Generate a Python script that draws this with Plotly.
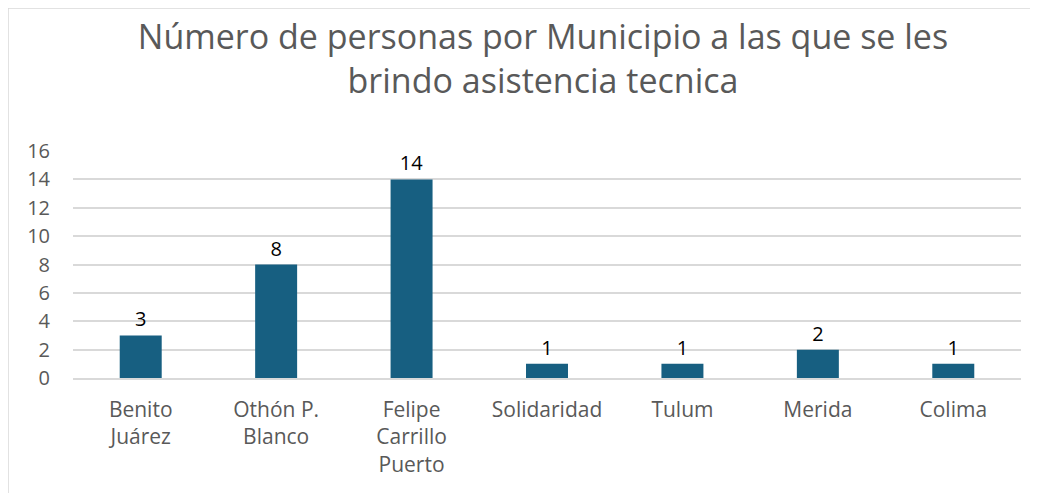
import plotly.graph_objects as go

categories = ["Benito<br>Juárez", "Othón P.<br>Blanco", "Felipe<br>Carrillo<br>Puerto",
              "Solidaridad", "Tulum", "Merida", "Colima"]
values = [3, 8, 14, 1, 1, 2, 1]
y_ticks = [0, 2, 4, 6, 8, 10, 12, 14, 16]

# page body has an 8px default margin, so the figure is offset by 8px
W, H = 1030, 485
L, R, T, B = 65, 17, 143, 115
pw, ph = W - L - R, H - T - B
FONT = "Open Sans, sans-serif"

fig = go.Figure(go.Bar(
    x=categories, y=values,
    marker=dict(color="#175F81", line=dict(width=0)),
    width=0.31,
    text=values, textposition="outside",
    textfont=dict(family=FONT, size=20, color="#000000"),
    cliponaxis=False,
))

fig.update_layout(
    width=W, height=H,
    margin=dict(l=L, r=R, t=T, b=B),
    paper_bgcolor="white", plot_bgcolor="white",
    title=dict(
        text="Número de personas por Municipio a las que se les<br>brindo asistencia tecnica",
        x=535 / W, xanchor="center", y=1 - 41 / H, yanchor="middle",
        font=dict(family=FONT, size=34, color="#595959"),
    ),
    showlegend=False,
    font=dict(family=FONT),
    shapes=[dict(type="rect", xref="paper", yref="paper",
                 x0=(0 - L) / pw, x1=(W + 5 - L) / pw,
                 y0=-(B + 5) / ph, y1=1 + (T - 0) / ph,
                 line=dict(color="#d9d9d9", width=1.5), layer="below")],
)
fig.update_yaxes(
    range=[0, 16], tickvals=y_ticks, showgrid=True, gridcolor="#d9d9d9", gridwidth=1.5,
    zeroline=False, showline=False, ticks="", ticklabelstandoff=22,
    tickfont=dict(size=20, color="#595959"),
)
fig.update_xaxes(
    showline=True, linecolor="#d9d9d9", linewidth=1.5, ticks="", ticklabelstandoff=12,
    tickfont=dict(size=21, color="#595959"),
)

fig.write_html("out.html")
